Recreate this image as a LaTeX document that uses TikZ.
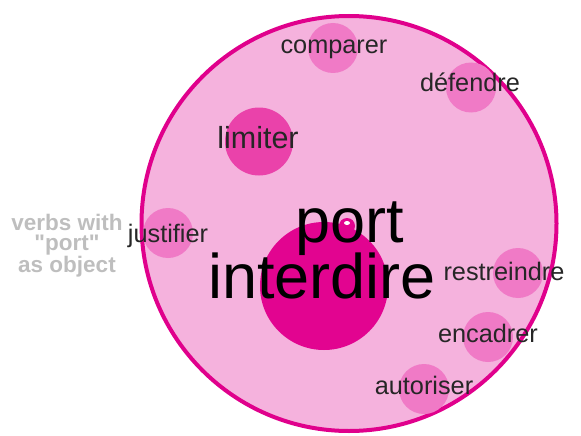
\documentclass[tikz,border=0pt]{standalone}
\usepackage{fontspec}
\setmainfont{Liberation Sans}
\newfontfamily\legendfont{Liberation Sans}[Ligatures=TeXOff]
\usetikzlibrary{shapes.geometric}
\definecolor{outerfill}{RGB}{245,178,221}
\definecolor{outerline}{RGB}{224,0,140}
\definecolor{smallfill}{RGB}{240,122,198}
\definecolor{midfill}{RGB}{234,66,170}
\definecolor{corefill}{RGB}{226,4,144}
\definecolor{labeltext}{RGB}{38,38,38}
\definecolor{graytext}{RGB}{190,190,190}
\tikzset{
  bubble/.style={circle, fill=smallfill, draw=none, inner sep=0pt, minimum size=50pt},
  lbl/.style={anchor=base, inner sep=0pt, text=labeltext, font=\fontsize{25.3}{30}\selectfont},
  biglbl/.style={anchor=base, inner sep=0pt, text=black, font=\fontsize{63}{63}\selectfont},
}
\begin{document}
\begin{tikzpicture}[x=1pt,y=-1pt]
\useasboundingbox (0,0) rectangle (581,436);
% outer circle
\node[circle, fill=outerfill, draw=outerline, line width=4pt, inner sep=0pt, minimum size=415pt] (outer) at (349,223.5) {};
% bubbles
\node[bubble] (bcomparer) at (333,48) {};
\node[bubble] (bdefendre) at (471,87.5) {};
\node[bubble, fill=midfill, minimum size=68pt] (blimiter) at (259,141.5) {};
\node[bubble] (bjustifier) at (168,233) {};
\node[bubble] (brestreindre) at (518,273) {};
\node[bubble] (bencadrer) at (488,337) {};
\node[bubble] (bautoriser) at (424,389) {};
\node[circle, fill=corefill, inner sep=0pt, minimum size=128pt] (bcore) at (324,286) {};
\node[circle, fill=corefill, inner sep=0pt, minimum size=16pt] (bport) at (347,226) {};
\node[ellipse, fill=white, inner sep=0pt, minimum width=6pt, minimum height=4pt] (hport) at (347,223) {};
% labels
\node[lbl] (lcomparer) at (334,54) {comparer};
\node[lbl] (ldefendre) at (470,92) {défendre};
\node[lbl, font=\fontsize{30.5}{34}\selectfont] (llimiter) at (258,148) {limiter};
\node[lbl] (ljustifier) at (168,242) {justifier};
\node[lbl] (lrestreindre) at (504,280) {restreindre};
\node[lbl] (lencadrer) at (488,342) {encadrer};
\node[lbl] (lautoriser) at (424,394) {autoriser};
\node[biglbl] (lport) at (350,242) {port};
\node[biglbl] (linterdire) at (322,298) {interdire};
% legend
\node[align=center, text=graytext, inner sep=0pt, anchor=base, font=\legendfont\bfseries\fontsize{22.5}{19.5}\selectfont] (legend) at (67,272) {verbs with\\"port"\\as object};
\end{tikzpicture}
\end{document}
